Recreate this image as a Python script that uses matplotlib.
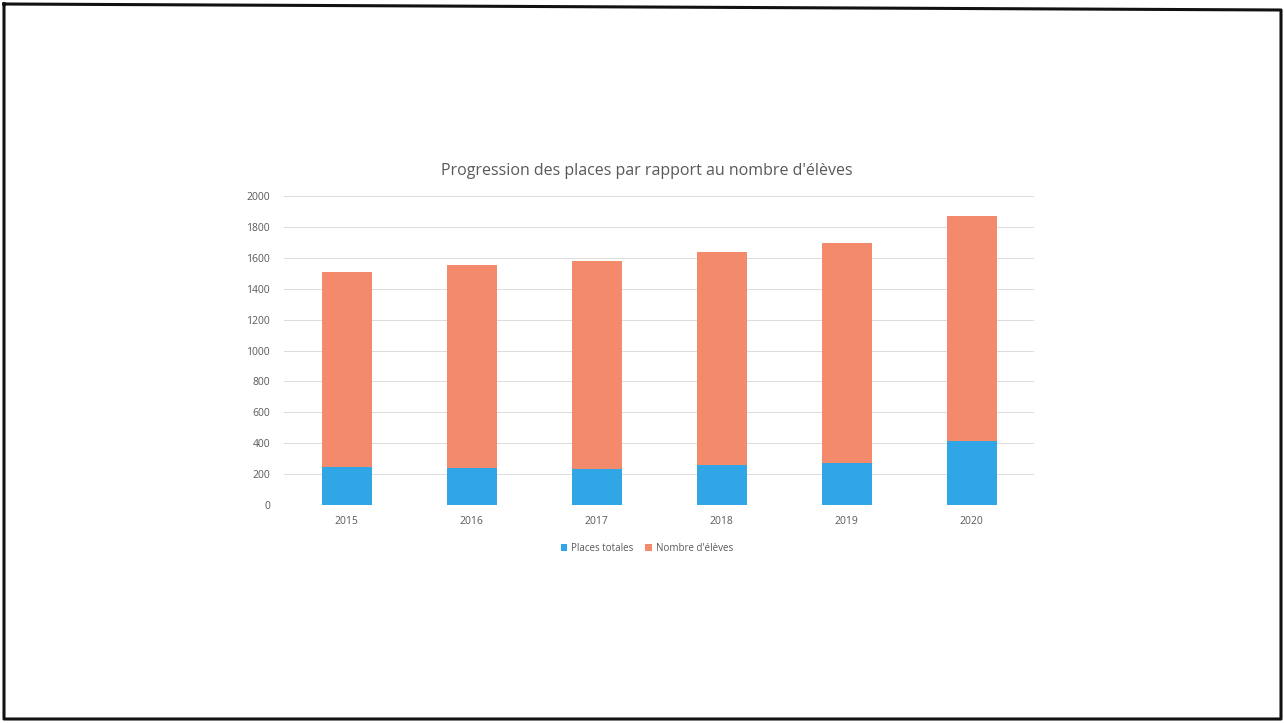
import matplotlib
matplotlib.use("Agg")
from matplotlib import pyplot as plt
from matplotlib.lines import Line2D
import numpy as np

plt.rcParams['font.family'] = ['Open Sans', 'DejaVu Sans']

# values
years = ['2015', '2016', '2017', '2018', '2019', '2020']
places = [246, 240, 233, 259, 272, 414]          # bottom (blue)
eleves = [1262, 1313, 1346, 1378, 1426, 1456]    # stacked on top (orange)
yticks = [0, 200, 400, 600, 800, 1000, 1200, 1400, 1600, 1800, 2000]

blue = '#31a6e6'
orange = '#f28a6b'
grey_txt = '#595959'

fig = plt.figure(figsize=(12.84, 7.23), dpi=100)
ax = fig.add_axes([0.2212, 0.3015, 0.5841, 0.4274])

x = np.arange(len(years))
ax.bar(x, places, width=0.4, color=blue, label='Places totales', zorder=3)
ax.bar(x, eleves, width=0.4, bottom=places, color=orange,
       label="Nombre d'élèves", zorder=3)

ax.set_xlim(-0.5, len(years) - 0.5)
ax.set_ylim(0, 2000)
ax.set_yticks(yticks)
ax.set_xticks(x)
ax.set_xticklabels(years)
ax.tick_params(axis='both', length=0, labelsize=7.5, colors=grey_txt)
ax.tick_params(axis='y', pad=10)
ax.tick_params(axis='x', pad=8)
ax.grid(axis='y', color='#dcdcdc', lw=0.7, zorder=0)
for s in ax.spines.values():
    s.set_visible(False)

fig.text(0.504, 0.763, "Progression des places par rapport au nombre d'élèves",
         ha='center', va='center', fontsize=11.5, color=grey_txt)

ax.legend(loc='upper center', bbox_to_anchor=(0.484, -0.095), ncol=2,
          frameon=False, fontsize=7, handlelength=0.7, handleheight=0.7,
          handletextpad=0.4, columnspacing=1.2, labelcolor=grey_txt)

# scanned page frame
W, H = 1284, 723
def px(xp, yp):
    return xp / W, 1 - yp / H
frame = [(4, 4), (1281, 10), (1281, 719), (4, 719), (4, 4)]
fx = [px(a, b)[0] for a, b in frame]
fy = [px(a, b)[1] for a, b in frame]
fig.add_artist(Line2D(fx, fy, transform=fig.transFigure, color='#111111', lw=2.2))

fig.savefig('out.png', dpi=100)
